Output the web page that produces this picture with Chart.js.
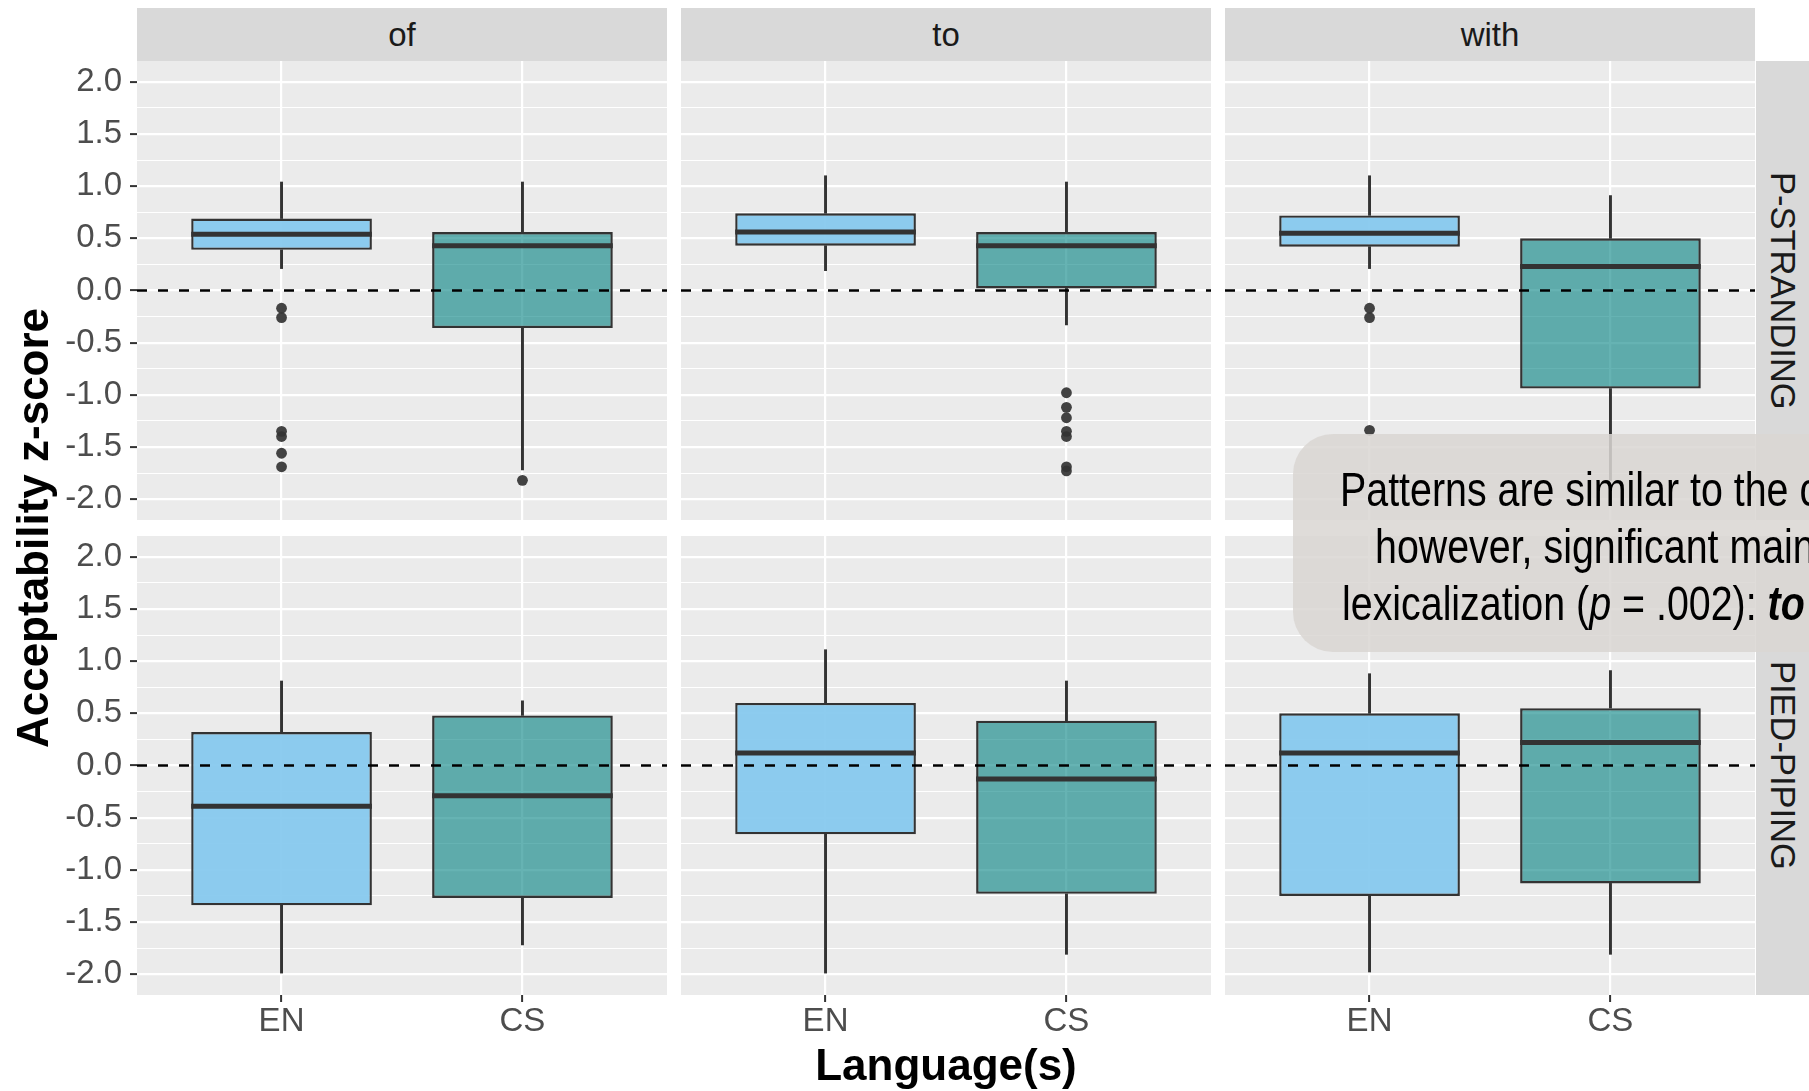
<!DOCTYPE html>
<html>
<head>
<meta charset="utf-8">
<script src="https://cdn.jsdelivr.net/npm/chart.js@4.4.1/dist/chart.umd.min.js"></script>
<style>
  html, body { margin: 0; padding: 0; background: #fff; overflow: hidden; }
  body { width: 1809px; height: 1091px; position: relative; font-family: "Liberation Sans", Arial, sans-serif; }
  canvas { position: absolute; }
  .strip { position: absolute; background: #d9d9d9; color: #1a1a1a; font-size: 33px;
           display: flex; align-items: center; justify-content: center; white-space: nowrap; }
  .strip.side { writing-mode: vertical-rl; font-size: 34.5px; }
  .axis-title { position: absolute; font-weight: bold; font-size: 44px; line-height: 50px; height: 50px;
                color: #000; text-align: center; white-space: nowrap; }
  .note { position: absolute; left: 1293px; top: 434px; width: 720px; height: 218px; box-sizing: border-box;
          padding-top: 27px; border-radius: 40px; background: rgba(218, 214, 211, 0.86); color: #000;
          font-family: "Liberation Sans Narrow", "Arial Narrow", "Liberation Sans", sans-serif;
          font-size: 48px; line-height: 57px; white-space: nowrap; z-index: 5; }
  .note div { transform-origin: left center; }
</style>
</head>
<body>
<script>
// Facets
const prepositions = ['of', 'to', 'with'];
const constructions = ['P-STRANDING', 'PIED-PIPING'];
const languages = ['EN', 'CS'];

// Box summaries: [lower whisker, Q1, median, Q3, upper whisker]
const strandOfEN   = [0.21, 0.39, 0.54, 0.69, 1.04];
const strandOfCS   = [-1.72, -0.36, 0.43, 0.56, 1.04];
const strandToEN   = [0.19, 0.43, 0.56, 0.74, 1.10];
const strandToCS   = [-0.33, 0.02, 0.43, 0.56, 1.04];
const strandWithEN = [0.21, 0.42, 0.55, 0.72, 1.10];
const strandWithCS = [-1.82, -0.94, 0.23, 0.50, 0.91];
const piedOfEN     = [-1.99, -1.34, -0.39, 0.32, 0.81];
const piedOfCS     = [-1.72, -1.27, -0.29, 0.48, 0.62];
const piedToEN     = [-1.99, -0.66, 0.12, 0.60, 1.11];
const piedToCS     = [-1.81, -1.23, -0.13, 0.43, 0.81];
const piedWithEN   = [-1.98, -1.25, 0.12, 0.50, 0.88];
const piedWithCS   = [-1.81, -1.13, 0.22, 0.55, 0.91];

// Outlying ratings
const strandOfENOut   = [-0.17, -0.26, -1.35, -1.40, -1.56, -1.69];
const strandOfCSOut   = [-1.82];
const strandToCSOut   = [-0.98, -1.12, -1.22, -1.35, -1.40, -1.69, -1.73];
const strandWithENOut = [-0.17, -0.26, -1.34];

// Axis ticks
const majorTicks = [-2.0, -1.5, -1.0, -0.5, 0.0, 0.5, 1.0, 1.5, 2.0];
const minorTicks = [-1.75, -1.25, -0.75, -0.25, 0.25, 0.75, 1.25, 1.75];
const referenceLevel = 0;

// Facet table: rows = constructions, columns = prepositions
const facets = [
  [
    { en: strandOfEN,   cs: strandOfCS,   enOut: strandOfENOut,   csOut: strandOfCSOut },
    { en: strandToEN,   cs: strandToCS,   enOut: [],              csOut: strandToCSOut },
    { en: strandWithEN, cs: strandWithCS, enOut: strandWithENOut, csOut: [] }
  ],
  [
    { en: piedOfEN,   cs: piedOfCS,   enOut: [], csOut: [] },
    { en: piedToEN,   cs: piedToCS,   enOut: [], csOut: [] },
    { en: piedWithEN, cs: piedWithCS, enOut: [], csOut: [] }
  ]
];

// Layout of the facet grid
const colLeft = [137, 681, 1225];
const rowTop = [61, 536];
const panelW = 530, panelH = 459;
const yAxisW = 137, xAxisH = 50;
const sideStripLeft = 1756, stripW = 53;
const xMin = 0.4, xMax = 2.6, yMin = -2.2, yMax = 2.2;

const enFill = 'rgba(131, 200, 238, 0.92)';
const csFill = 'rgba(0, 128, 128, 0.6)';
const ink = '#333333';

Chart.defaults.font.family = '"Liberation Sans", Arial, sans-serif';

const panelBg = {
  id: 'panelBg',
  beforeDraw(chart) {
    const { ctx, chartArea: a } = chart;
    ctx.save();
    ctx.fillStyle = '#ebebeb';
    ctx.fillRect(a.left, a.top, a.right - a.left, a.bottom - a.top);
    ctx.restore();
  }
};

// Median bar across each box, placed from the y scale
const medianLines = {
  id: 'medianLines',
  afterDatasetDraw(chart, args) {
    const ds = chart.data.datasets[args.index];
    if (!ds.medians) return;
    const yScale = chart.scales.y;
    const ctx = chart.ctx;
    ctx.save();
    ctx.strokeStyle = ink;
    ctx.lineWidth = 5;
    args.meta.data.forEach((bar, i) => {
      const { x, width } = bar.getProps(['x', 'width'], true);
      const py = yScale.getPixelForValue(ds.medians[i]);
      ctx.beginPath();
      ctx.moveTo(x - width / 2, py);
      ctx.lineTo(x + width / 2, py);
      ctx.stroke();
    });
    ctx.restore();
  }
};

const fmt = v => (v < 0 ? '-' : '') + Math.abs(v).toFixed(1);

function addEl(cls, text, css) {
  const d = document.createElement('div');
  d.className = cls;
  d.textContent = text;
  Object.assign(d.style, css);
  document.body.appendChild(d);
  return d;
}

function buildPanel(r, c) {
  const facet = facets[r][c];
  const showY = c === 0, showX = r === 1;
  const canvas = document.createElement('canvas');
  const w = (showY ? yAxisW : 0) + panelW;
  const h = panelH + (showX ? xAxisH : 0);
  canvas.width = w; canvas.height = h;
  canvas.style.left = (showY ? colLeft[c] - yAxisW : colLeft[c]) + 'px';
  canvas.style.top = rowTop[r] + 'px';
  canvas.style.width = w + 'px'; canvas.style.height = h + 'px';
  document.body.appendChild(canvas);

  const stats = [facet.en, facet.cs];
  const outliers = [];
  facet.enOut.forEach(v => outliers.push({ x: 1, y: v }));
  facet.csOut.forEach(v => outliers.push({ x: 2, y: v }));

  const isMajor = t => t && majorTicks.includes(t.value);

  new Chart(canvas, {
    type: 'bar',
    data: {
      datasets: [
        {
          type: 'line',
          data: [{ x: xMin, y: referenceLevel }, { x: xMax, y: referenceLevel }],
          borderColor: '#000', borderWidth: 2.4, borderDash: [10, 11],
          pointRadius: 0, order: 0
        },
        {
          type: 'scatter',
          data: outliers,
          pointRadius: 5.4, pointBackgroundColor: 'rgba(51,51,51,0.92)', pointBorderWidth: 0,
          order: 1
        },
        {
          type: 'bar',
          medians: stats.map(s => s[2]),
          data: stats.map((s, i) => ({ x: i + 1, y: [s[1], s[3]] })),
          backgroundColor: [enFill, csFill],
          borderColor: ink, borderWidth: 2.4, borderSkipped: false,
          grouped: false, categoryPercentage: 1, barPercentage: 0.75,
          order: 2
        },
        {
          type: 'bar',
          data: stats.map((s, i) => ({ x: i + 1, y: [s[3], s[4]] })),
          backgroundColor: ink, barThickness: 2.3, grouped: false, order: 3
        },
        {
          type: 'bar',
          data: stats.map((s, i) => ({ x: i + 1, y: [s[0], s[1]] })),
          backgroundColor: ink, barThickness: 2.3, grouped: false, order: 3
        }
      ]
    },
    options: {
      responsive: false,
      animation: false,
      events: [],
      layout: { padding: 0, autoPadding: false },
      plugins: { legend: { display: false }, tooltip: { enabled: false } },
      scales: {
        x: {
          type: 'linear', min: xMin, max: xMax, offset: false,
          border: { display: false },
          grid: { offset: false, color: '#ffffff', lineWidth: 2.2, drawTicks: showX,
                  tickLength: 7, tickColor: ink, tickWidth: 2 },
          ticks: { display: showX, autoSkip: false, padding: 0, color: '#4d4d4d',
                   font: { size: 33 }, maxRotation: 0,
                   callback: v => languages[Math.round(v) - 1] || '' },
          afterBuildTicks: s => { s.ticks = languages.map((_, i) => ({ value: i + 1 })); },
          afterFit: s => {
            s.height = showX ? xAxisH : 0;
            s.paddingLeft = s.paddingRight = s.paddingTop = s.paddingBottom = 0;
          }
        },
        y: {
          type: 'linear', min: yMin, max: yMax,
          border: { display: false },
          grid: { color: '#ffffff', lineWidth: ctx => isMajor(ctx.tick) ? 2.2 : 1.1,
                  drawTicks: showY, tickLength: 7,
                  tickColor: ctx => isMajor(ctx.tick) ? ink : 'rgba(0,0,0,0)', tickWidth: 2 },
          ticks: { display: showY, autoSkip: false, padding: 8, color: '#4d4d4d',
                   font: { size: 33 },
                   callback: v => majorTicks.includes(v) ? fmt(v) : '' },
          afterBuildTicks: s => {
            s.ticks = majorTicks.concat(minorTicks).sort((a, b) => a - b).map(v => ({ value: v }));
          },
          afterFit: s => {
            s.width = showY ? yAxisW : 0;
            s.paddingLeft = s.paddingRight = s.paddingTop = s.paddingBottom = 0;
          }
        }
      }
    },
    plugins: [panelBg, medianLines]
  });
}

for (let r = 0; r < constructions.length; r++) {
  for (let c = 0; c < prepositions.length; c++) buildPanel(r, c);
}

// Facet strips
prepositions.forEach((p, c) => {
  addEl('strip', p, { left: colLeft[c] + 'px', top: '8px', width: panelW + 'px', height: (rowTop[0] - 8) + 'px' });
});
constructions.forEach((k, r) => {
  addEl('strip side', k, { left: sideStripLeft + 'px', top: rowTop[r] + 'px', width: stripW + 'px', height: panelH + 'px' });
});

// Axis titles
const gridCenterX = (colLeft[0] + colLeft[2] + panelW) / 2;
const gridCenterY = (rowTop[0] + rowTop[1] + panelH) / 2;
addEl('axis-title', 'Language(s)', { left: (gridCenterX - 400) + 'px', top: '1040px', width: '800px' });
addEl('axis-title', 'Acceptability z-score', {
  left: (33 - 467) + 'px', top: (gridCenterY - 25) + 'px', width: '934px', transform: 'rotate(-90deg)'
});

// Annotation callout
const note = document.createElement('div');
note.className = 'note';
note.innerHTML =
  '<div style="margin-left:47px">Patterns are similar to the c</div>' +
  '<div style="margin-left:82px">however, significant main</div>' +
  '<div style="margin-left:49px">lexicalization (<i>p</i> = .002): <b><i>to</i></b></div>';
document.body.appendChild(note);

// Fall back to a horizontally condensed regular face when no narrow face is installed
(function () {
  const m = document.createElement('canvas').getContext('2d');
  const probe = 'Patterns are similar';
  m.font = '48px "Liberation Sans Narrow", monospace';
  const a = m.measureText(probe).width;
  m.font = '48px monospace';
  const b = m.measureText(probe).width;
  if (Math.abs(a - b) < 0.5) {
    note.style.fontFamily = '"Liberation Sans", Arial, sans-serif';
    note.querySelectorAll('div').forEach(d => { d.style.transform = 'scaleX(0.82)'; });
  }
})();
</script>
</body>
</html>
